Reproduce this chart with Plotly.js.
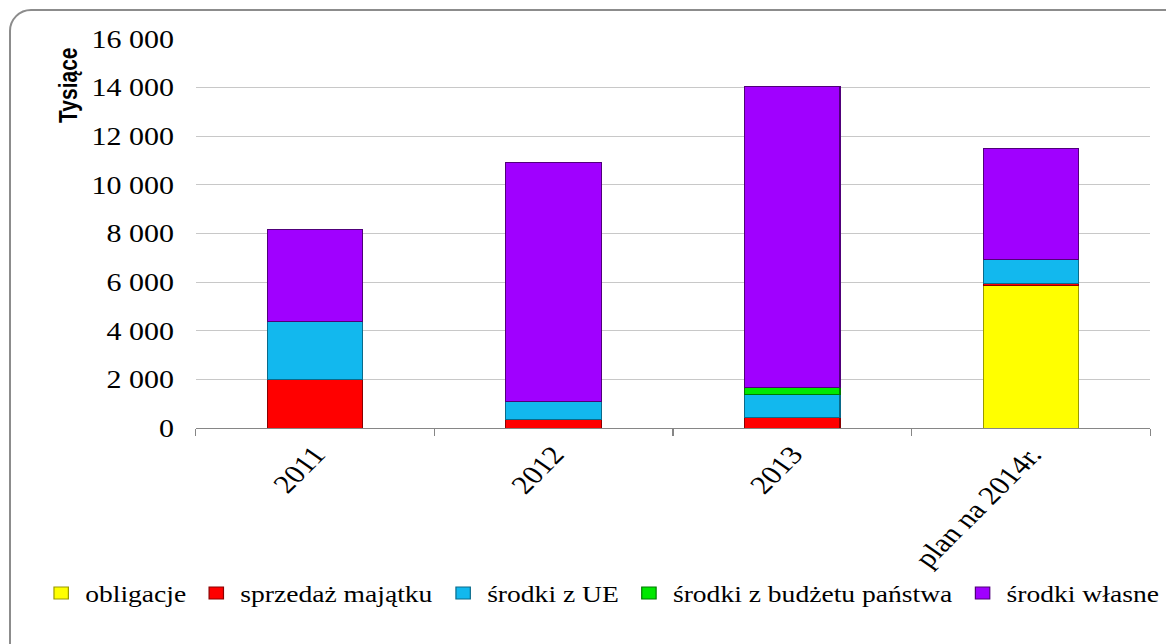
<!DOCTYPE html>
<html>
<head>
<meta charset="utf-8">
<script src="https://cdn.plot.ly/plotly-3.0.1.min.js"></script>
<style>
  html, body { margin: 0; padding: 0; background: #fff; overflow: hidden; }
  #wrap { position: relative; width: 1166px; height: 644px; overflow: hidden; }
  #frame { position: absolute; left: 9px; top: 9px; width: 1180px; height: 660px;
           border: 2px solid #8c8c8c; border-radius: 22px; box-sizing: border-box; pointer-events: none; }
  #chart { position: absolute; left: 0; top: 0; width: 972px; height: 644px;
           transform-origin: 0 0; transform: scaleX(1.19959); }
</style>
</head>
<body>
<div id="wrap">
  <div id="chart"></div>
  <div id="frame"></div>
</div>
<script>
const categories = ["2011", "2012", "2013", "plan na 2014r."];
const obligacje = [0, 0, 0, 5850];
const sprzedazMajatku = [2000, 360, 440, 100];
const srodkiUE = [2370, 740, 930, 1000];
const srodkiBudzetu = [0, 0, 300, 0];
const srodkiWlasne = [3790, 9820, 12390, 4560];

const seriesNames = ["obligacje", "sprzedaż majątku", "środki z UE", "środki z budżetu państwa", "środki własne"];
const seriesValues = [obligacje, sprzedazMajatku, srodkiUE, srodkiBudzetu, srodkiWlasne];
const seriesColors = ["#FFFF00", "#FF0000", "#12B8EE", "#00E800", "#A000FF"];
const seriesLines = ["#9a9a00", "#8a0000", "#0a6a8a", "#007a00", "#50007a"];

const SERIF = "Liberation Serif";

const traces = seriesNames.map((n, i) => ({
  type: "bar",
  name: n,
  x: categories,
  y: seriesValues[i],
  marker: { color: seriesColors[i], line: { color: seriesLines[i], width: 1 } },
  hoverinfo: "name+y"
}));

const layout = {
  width: 972, height: 644,
  barmode: "stack",
  bargap: 0.6,
  separators: ", ",
  paper_bgcolor: "#ffffff",
  plot_bgcolor: "#ffffff",
  margin: { l: 162.5, r: 13.3, t: 39, b: 216 },
  font: { family: SERIF, color: "#000", size: 24 },
  xaxis: {
    type: "category",
    tickangle: -50,
    showline: true, linecolor: "#868686", linewidth: 1,
    ticks: "outside", ticklen: 7, tickcolor: "#868686",
    tickson: "boundaries",
    tickfont: { family: SERIF, size: 26, color: "#000" },
    showgrid: false, zeroline: false
  },
  yaxis: {
    range: [0, 16000],
    dtick: 2000,
    tickformat: ",d",
    showgrid: true, gridcolor: "#c8c8c8", gridwidth: 1,
    showline: false, zeroline: false,
    ticks: "", ticklen: 0,
    ticklabelstandoff: 17,
    tickfont: { family: SERIF, size: 25, color: "#000" }
  },
  showlegend: true,
  legend: {
    orientation: "h",
    x: -0.141, xanchor: "left", xref: "paper",
    y: -0.424, yanchor: "middle", yref: "paper",
    bgcolor: "rgba(0,0,0,0)",
    traceorder: "normal",
    font: { family: SERIF, size: 23, color: "#000" },
    itemwidth: 30
  },
  annotations: [{
    text: "<b>Tysiące</b>",
    textangle: -90,
    xref: "paper", yref: "paper",
    x: -0.133, y: 0.985, xanchor: "center", yanchor: "top",
    showarrow: false,
    font: { family: "Liberation Sans", size: 21, color: "#000" }
  }]
};

Plotly.newPlot("chart", traces, layout, { displayModeBar: false, staticPlot: true });
</script>
</body>
</html>
